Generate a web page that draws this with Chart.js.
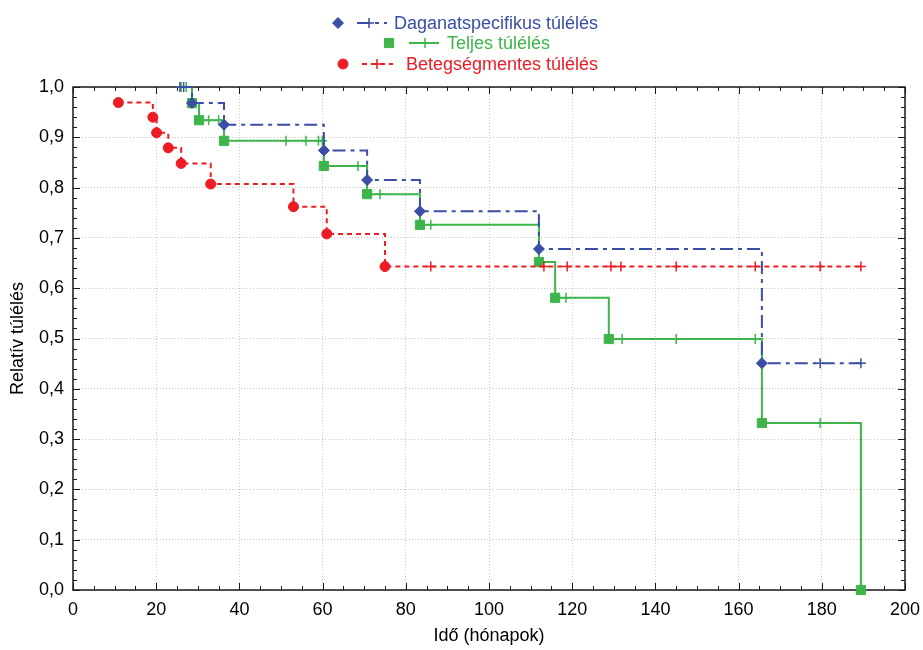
<!DOCTYPE html>
<html>
<head>
<meta charset="utf-8">
<script src="https://cdn.jsdelivr.net/npm/chart.js@4.4.1/dist/chart.umd.min.js"></script>
<style>
  html, body { margin: 0; padding: 0; background: #fff; }
</style>
</head>
<body>
<canvas id="myChart" width="923" height="650"></canvas>
<script>
// tick labels
const xTickLabels = ['0', '20', '40', '60', '80', '100', '120', '140', '160', '180', '200'];
const yTickLabels = ['0,0', '0,1', '0,2', '0,3', '0,4', '0,5', '0,6', '0,7', '0,8', '0,9', '1,0'];

// Daganatspecifikus túlélés (1 = event, 0 = censored)
const dssTime  = [25.7, 26.6, 28.6, 36.3, 60.3, 70.7, 83.4, 112.0, 165.6, 179.6, 189.4];
const dssSurv  = [1.0, 1.0, 0.968, 0.925, 0.874, 0.815, 0.753, 0.678, 0.451, 0.451, 0.451];
const dssEvent = [0, 0, 1, 1, 1, 1, 1, 1, 1, 0, 0];

// Teljes túlélés
const osTime  = [26.0, 27.2, 28.6, 30.3, 32.6, 35.0, 36.3, 51.2, 56.0, 59.0, 59.9, 60.3, 68.5, 70.7, 73.8, 83.4, 86.0, 112.0, 115.9, 118.5, 128.8, 132.0, 145.0, 164.0, 165.6, 179.6, 189.4];
const osSurv  = [1.0, 1.0, 0.968, 0.934, 0.934, 0.934, 0.893, 0.893, 0.893, 0.893, 0.893, 0.843, 0.843, 0.787, 0.787, 0.726, 0.726, 0.652, 0.581, 0.581, 0.499, 0.499, 0.499, 0.499, 0.332, 0.332, 0.0];
const osEvent = [0, 0, 1, 1, 0, 0, 1, 0, 0, 0, 0, 1, 0, 1, 0, 1, 0, 1, 1, 0, 1, 0, 0, 0, 1, 0, 1];

// Betegségmentes túlélés
const dfsTime  = [10.9, 19.2, 20.1, 22.9, 26.0, 33.1, 53.0, 61.0, 75.0, 86.0, 113.2, 118.8, 129.3, 131.7, 145.0, 164.0, 179.6, 189.4];
const dfsSurv  = [0.969, 0.940, 0.909, 0.879, 0.848, 0.807, 0.762, 0.708, 0.643, 0.643, 0.643, 0.643, 0.643, 0.643, 0.643, 0.643, 0.643, 0.643];
const dfsEvent = [1, 1, 1, 1, 1, 1, 1, 1, 1, 0, 0, 0, 0, 0, 0, 0, 0, 0];

const blue = '#3a4ea6';
const green = '#3db54a';
const red = '#ed1c24';
const fontFamily = '"Liberation Sans", Arial, sans-serif';

Chart.defaults.font.family = fontFamily;
Chart.defaults.color = '#000';

function kmDataset(label, times, surv, events, color, dash, shape, shapeRadius) {
    return {
        label: label,
        data: times.map((t, i) => ({ x: t, y: surv[i] })),
        stepped: true,
        fill: false,
        clip: false,
        borderColor: color,
        borderWidth: 2,
        borderDash: dash,
        pointStyle: events.map(e => e ? shape : 'cross'),
        pointRadius: events.map(e => e ? shapeRadius : 5),
        pointBorderWidth: events.map(e => e ? 1 : 1.5),
        pointBackgroundColor: color,
        pointBorderColor: color,
        pointHoverRadius: 0
    };
}

const datasets = [
    kmDataset('Daganatspecifikus túlélés', dssTime, dssSurv, dssEvent, blue, [13, 5, 4, 5], 'rectRot', 5.5),
    kmDataset('Betegségmentes túlélés', dfsTime, dfsSurv, dfsEvent, red, [5, 4], 'circle', 5),
    kmDataset('Teljes túlélés', osTime, osSurv, osEvent, green, [], 'rect', 6.5)
];

// legend layout (marker, line sample, text)
const legendRows = [
    { ds: 0, markerX: 338, lineFrom: 357, lineTo: 387, crossX: 369, textX: 394, y: 23 },
    { ds: 2, markerX: 389, lineFrom: 409, lineTo: 439, crossX: 425, textX: 447, y: 43 },
    { ds: 1, markerX: 343, lineFrom: 362, lineTo: 393, crossX: 377, textX: 406, y: 64 }
];

const legendPlugin = {
    id: 'kmLegend',
    afterDraw(chart) {
        const ctx = chart.ctx;
        ctx.save();
        legendRows.forEach(row => {
            const ds = chart.data.datasets[row.ds];
            const shape = ds.pointStyle.find(s => s !== 'cross');
            const r = Math.max(...ds.pointRadius);
            ctx.fillStyle = ds.borderColor;
            ctx.strokeStyle = ds.borderColor;
            ctx.lineWidth = 1;
            ctx.setLineDash([]);
            Chart.helpers.drawPoint(ctx, { pointStyle: shape, radius: r, borderWidth: 1 }, row.markerX, row.y);
            ctx.lineWidth = 2;
            ctx.setLineDash(ds.borderDash);
            ctx.beginPath();
            ctx.moveTo(row.lineFrom, row.y);
            ctx.lineTo(row.lineTo, row.y);
            ctx.stroke();
            ctx.setLineDash([]);
            ctx.lineWidth = 1.5;
            Chart.helpers.drawPoint(ctx, { pointStyle: 'cross', radius: 5, borderWidth: 1.5 }, row.crossX, row.y);
            ctx.font = '18px ' + fontFamily;
            ctx.textBaseline = 'middle';
            ctx.textAlign = 'left';
            ctx.fillText(ds.label, row.textX, row.y + 1);
        });
        ctx.restore();
    }
};

// frame with inward ticks
const framePlugin = {
    id: 'frame',
    beforeDatasetsDraw(chart) {
        const ctx = chart.ctx;
        const a = chart.chartArea;
        const xs = chart.scales.x;
        const ys = chart.scales.y;
        ctx.save();
        ctx.strokeStyle = '#1a1a1a';
        ctx.lineWidth = 1;
        ctx.beginPath();
        for (let v = 0; v <= 200; v += 5) {
            const px = Math.round(xs.getPixelForValue(v)) + 0.5;
            const len = v % 20 === 0 ? 7 : 4;
            ctx.moveTo(px, a.bottom); ctx.lineTo(px, a.bottom - len);
            ctx.moveTo(px, a.top); ctx.lineTo(px, a.top + len);
        }
        for (let k = 0; k <= 50; k++) {
            const py = Math.round(ys.getPixelForValue(k * 0.02)) + 0.5;
            const len = k % 5 === 0 ? 7 : 4;
            ctx.moveTo(a.left, py); ctx.lineTo(a.left + len, py);
            ctx.moveTo(a.right, py); ctx.lineTo(a.right - len, py);
        }
        ctx.stroke();
        ctx.lineWidth = 1.5;
        ctx.strokeRect(a.left, a.top, a.right - a.left, a.bottom - a.top);
        ctx.restore();
    }
};

const ctx = document.getElementById('myChart').getContext('2d');

const config = {
    type: 'line',
    data: { datasets: datasets },
    options: {
        responsive: false,
        animation: false,
        devicePixelRatio: 1,
        layout: { padding: { left: 0, right: 18, top: 87, bottom: 0 } },
        plugins: {
            legend: { display: false },
            tooltip: { enabled: false }
        },
        scales: {
            x: {
                type: 'linear',
                min: 0,
                max: 200,
                grid: { color: '#c4c4c4', drawTicks: false },
                border: { display: false, dash: [1, 2] },
                ticks: {
                    stepSize: 20,
                    padding: 9,
                    font: { size: 18 },
                    callback: (value, index) => xTickLabels[index]
                },
                title: {
                    display: true,
                    text: 'Idő (hónapok)',
                    font: { size: 18 },
                    padding: { top: 0, bottom: 3 }
                },
                afterFit(scale) {
                    scale.height = 60;
                    scale.paddingLeft = 0;
                    scale.paddingRight = 0;
                }
            },
            y: {
                min: 0,
                max: 1,
                grid: { color: '#c4c4c4', drawTicks: false },
                border: { display: false, dash: [1, 2] },
                ticks: {
                    stepSize: 0.1,
                    padding: 9,
                    font: { size: 18 },
                    callback: (value, index) => yTickLabels[index]
                },
                title: {
                    display: true,
                    text: 'Relatív túlélés',
                    font: { size: 18 },
                    padding: { top: 7, bottom: 0 }
                },
                afterFit(scale) {
                    scale.width = 73;
                    scale.paddingTop = 0;
                    scale.paddingBottom = 0;
                }
            }
        }
    },
    plugins: [framePlugin, legendPlugin]
};

const myChart = new Chart(ctx, config);
</script>
</body>
</html>
